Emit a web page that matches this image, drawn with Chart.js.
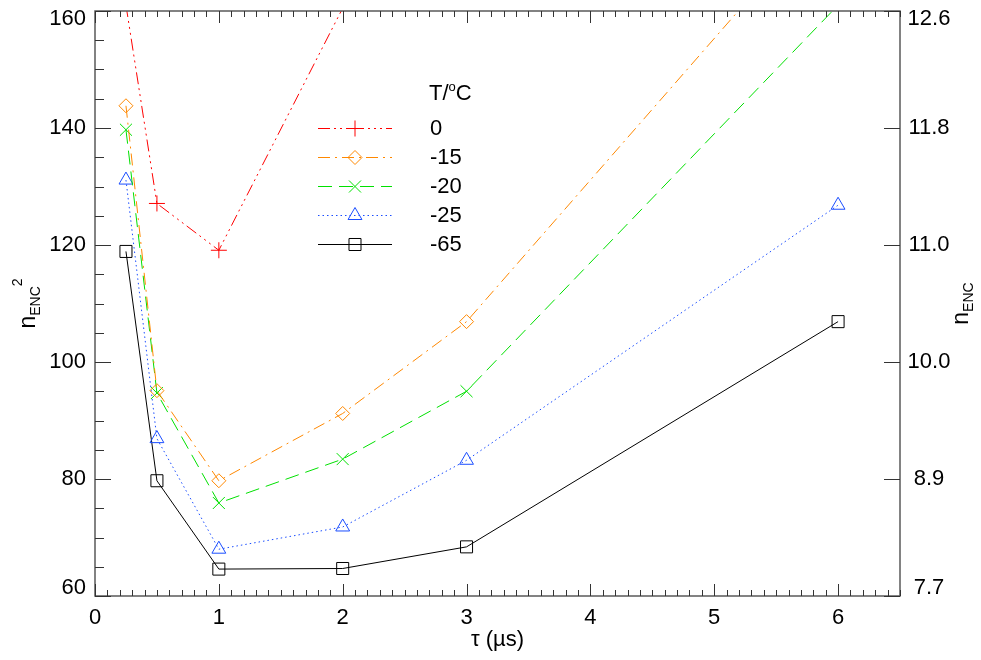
<!DOCTYPE html>
<html lang="pt-BR">
<head>
<meta charset="utf-8">
<title>n_ENC x tau</title>
<script src="https://cdn.jsdelivr.net/npm/chart.js"></script>
<style>
  html, body { margin: 0; padding: 0; background: #fff; }
  canvas { display: block; }
</style>
</head>
<body>
<canvas id="grafico" width="981" height="660"></canvas>
<script>
// 1. DADOS
const tau = [0.25, 0.5, 1, 2, 3, 6];
const temperaturas = ['0', '-15', '-20', '-25', '-65'];
const serieT0 = [161, 127.1, 119.1, 160.5, null, null]; // sai do gráfico depois de 2 µs
const serieT15 = [143.8, 95.1, 79.7, 91.2, 106.9, 179.5];
const serieT20 = [139.7, 94.7, 75.9, 83.4, 95.0, 161];
const serieT25 = [131.1, 86.9, 68.0, 71.8, 83.2, 126.8];
const serieT65 = [118.9, 79.7, 64.6, 64.7, 68.4, 106.9];

const ticksX = [0, 1, 2, 3, 4, 5, 6];
const ticksY = [60, 80, 100, 120, 140, 160];
const rotulosYDireita = ['7.7', '8.9', '10.0', '11.0', '11.8', '12.6']; // raiz de n_ENC^2

// 2. ESTILOS DAS SÉRIES (cor, tracejado, símbolo)
const estilos = [
    { cor: '#ff0000', traco: [12, 4, 2, 4, 2, 4, 2, 4], simbolo: 'cross', raio: 8 },
    { cor: '#ff8800', traco: [12, 5, 2, 5], simbolo: 'rectRot', raio: 7 },
    { cor: '#00e000', traco: [14, 7], simbolo: 'crossRot', raio: 8.5 },
    { cor: '#1a4dff', traco: [1.5, 3], simbolo: 'triangle', raio: 8 },
    { cor: '#000000', traco: [], simbolo: 'rect', raio: 8.5 }
];
const series = [serieT0, serieT15, serieT20, serieT25, serieT65];

const FONTE = '"Liberation Sans", Arial, Helvetica, sans-serif';
const Y_MIN = 60, Y_MAX = 160;

const datasets = series.map((valores, i) => ({
    label: temperaturas[i],
    data: tau.map((t, j) => ({ x: t, y: valores[j] })),
    borderColor: estilos[i].cor,
    borderWidth: 1,
    borderDash: estilos[i].traco,
    pointStyle: estilos[i].simbolo,
    // símbolos fora da área não são desenhados (como no IDL)
    pointRadius: ctx => (ctx.raw && ctx.raw.y > Y_MAX) ? 0 : estilos[i].raio,
    pointBorderColor: estilos[i].cor,
    pointBackgroundColor: 'rgba(0,0,0,0)',
    pointBorderWidth: 1,
    tension: 0,
    spanGaps: false
}));

// 3. FUNÇÕES AUXILIARES DE DESENHO
function desenharTextoComposto(ctx, partes, x, y, alinhamento) {
    // partes: [{ texto, tamanho, desloc }] -> desloc positivo desce (subscrito)
    let largura = 0;
    partes.forEach(p => { ctx.font = p.tamanho + 'px ' + FONTE; largura += ctx.measureText(p.texto).width; });
    let cursor = alinhamento === 'center' ? x - largura / 2 : x;
    ctx.textAlign = 'left';
    ctx.textBaseline = 'alphabetic';
    partes.forEach(p => {
        ctx.font = p.tamanho + 'px ' + FONTE;
        ctx.fillText(p.texto, cursor, y + p.desloc);
        cursor += ctx.measureText(p.texto).width;
    });
}

function desenharTituloVertical(ctx, partes, xBase, yCentro) {
    ctx.save();
    ctx.translate(xBase, yCentro);
    ctx.rotate(-Math.PI / 2);
    desenharTextoComposto(ctx, partes, 0, 0, 'center');
    ctx.restore();
}

function desenharSimbolo(ctx, estilo, x, y) {
    ctx.save();
    ctx.setLineDash([]);
    ctx.strokeStyle = estilo.cor;
    ctx.fillStyle = 'rgba(0,0,0,0)';
    ctx.lineWidth = 1;
    Chart.helpers.drawPoint(ctx, { pointStyle: estilo.simbolo, radius: estilo.raio, rotation: 0, borderWidth: 1 }, x, y);
    ctx.restore();
}

// 4. PLUGIN: moldura, ticks internos, rótulos e legenda no estilo IDL
const eixosIDL = {
    id: 'eixosIDL',
    afterDatasetsDraw(chart) {
        const ctx = chart.ctx;
        const area = chart.chartArea;
        const escX = chart.scales.x, escY = chart.scales.y, escY2 = chart.scales.y2;
        ctx.save();

        // moldura
        ctx.strokeStyle = '#5a5a5a';
        ctx.lineWidth = 1.5;
        ctx.strokeRect(area.left, area.top, area.right - area.left, area.bottom - area.top);

        // ticks do eixo x (baixo e cima), menores a cada 0.1
        ctx.strokeStyle = '#333';
        ctx.lineWidth = 1;
        ctx.beginPath();
        for (let i = 0; i <= Math.round(escX.max * 10); i++) {
            const px = Math.round(escX.getPixelForValue(i / 10)) + 0.5;
            const tam = i % 10 === 0 ? 12 : 6;
            ctx.moveTo(px, area.bottom); ctx.lineTo(px, area.bottom - tam);
            ctx.moveTo(px, area.top); ctx.lineTo(px, area.top + tam);
        }
        // ticks do eixo y esquerdo, menores a cada 5
        for (let v = Y_MIN; v <= Y_MAX; v += 5) {
            const py = Math.round(escY.getPixelForValue(v)) + 0.5;
            const tam = (v - Y_MIN) % 20 === 0 ? 16 : 9;
            ctx.moveTo(area.left, py); ctx.lineTo(area.left + tam, py);
        }
        // ticks do eixo direito
        ticksY.forEach(v => {
            const py = Math.round(escY2.getPixelForValue(v)) + 0.5;
            ctx.moveTo(area.right, py); ctx.lineTo(area.right - 16, py);
        });
        ctx.stroke();

        // rótulos dos ticks
        ctx.fillStyle = '#000';
        ctx.font = '22px ' + FONTE;
        ctx.textBaseline = 'middle';
        ctx.textAlign = 'center';
        ticksX.forEach(v => ctx.fillText(String(v), escX.getPixelForValue(v), 618));

        const prender = py => Math.min(Math.max(py, area.top + 8), area.bottom - 8);
        ctx.textAlign = 'right';
        ticksY.forEach(v => ctx.fillText(String(v), 86, prender(escY.getPixelForValue(v))));
        ctx.textAlign = 'center';
        ticksY.forEach((v, i) => ctx.fillText(rotulosYDireita[i], 929, prender(escY2.getPixelForValue(v))));

        // títulos dos eixos
        ctx.textAlign = 'center';
        ctx.textBaseline = 'middle';
        ctx.font = '22px ' + FONTE;
        ctx.fillText('\u03c4 (\u00b5s)', (area.left + area.right) / 2, 640);

        const meioY = (area.top + area.bottom) / 2;
        desenharTituloVertical(ctx, [
            { texto: 'n', tamanho: 23, desloc: 0 },
            { texto: 'ENC', tamanho: 14, desloc: 5 },
            { texto: '2', tamanho: 14, desloc: -13 }
        ], 35, meioY);
        desenharTituloVertical(ctx, [
            { texto: 'n', tamanho: 23, desloc: 0 },
            { texto: 'ENC', tamanho: 14, desloc: 5 }
        ], 968, meioY);

        // legenda
        ctx.fillStyle = '#000';
        desenharTextoComposto(ctx, [
            { texto: 'T/', tamanho: 22, desloc: 0 },
            { texto: 'o', tamanho: 13, desloc: -9 },
            { texto: 'C', tamanho: 22, desloc: 0 }
        ], 429, 100, 'left');

        temperaturas.forEach((t, i) => {
            const yLinha = 128 + i * 29;
            const est = estilos[i];
            ctx.save();
            ctx.strokeStyle = est.cor;
            ctx.lineWidth = 1;
            ctx.setLineDash(est.traco);
            ctx.beginPath();
            ctx.moveTo(318, yLinha + 0.5);
            ctx.lineTo(392, yLinha + 0.5);
            ctx.stroke();
            ctx.restore();
            desenharSimbolo(ctx, est, 355, yLinha + 0.5);
            ctx.fillStyle = '#000';
            ctx.font = '22px ' + FONTE;
            ctx.textAlign = 'left';
            ctx.textBaseline = 'middle';
            ctx.fillText(t, 430, yLinha + 1);
        });

        ctx.restore();
    }
};

// 5. GRÁFICO
const grafico = new Chart(document.getElementById('grafico').getContext('2d'), {
    type: 'line',
    data: { datasets: datasets },
    options: {
        responsive: false,
        animation: false,
        devicePixelRatio: 1,
        layout: { padding: { left: 95, top: 11, right: 81, bottom: 64 } },
        plugins: { legend: { display: false }, tooltip: { enabled: false } },
        scales: {
            x: { type: 'linear', min: 0, max: 6.5, display: false },
            y: { type: 'linear', min: Y_MIN, max: Y_MAX, display: false },
            y2: { type: 'linear', position: 'right', min: Y_MIN, max: Y_MAX, display: false }
        }
    },
    plugins: [eixosIDL]
});
</script>
</body>
</html>
